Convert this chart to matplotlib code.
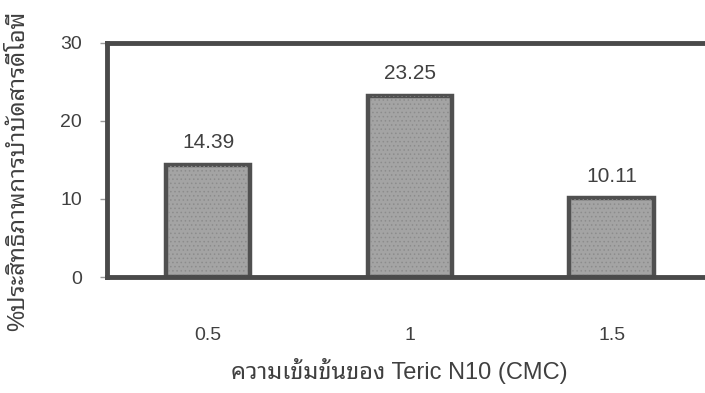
import matplotlib
matplotlib.use("Agg")
import matplotlib.pyplot as plt

plt.rcParams["font.family"] = ["Liberation Sans", "Noto Sans Thai Looped"]
plt.rcParams["hatch.linewidth"] = 0.6

# Teric N10 concentration (CMC) and treatment efficiency (%)
concentrations = ["0.5", "1", "1.5"]
efficiency = [14.39, 23.25, 10.11]
y_ticks = [0, 10, 20, 30]

x_label = "ความเข้มข้นของ Teric N10 (CMC)"
y_label = "%ประสิทธิภาพการบำบัดสารดีโอพี"

text_color = "#404040"
frame_color = "#4a4a4a"

fig = plt.figure(figsize=(7.05, 3.93), dpi=100)
ax = fig.add_axes([0.152, 0.295, 0.859, 0.596])

x = range(len(concentrations))
ax.bar(x, efficiency, width=0.42, color="#a4a4a4",
       edgecolor="#505050", linewidth=3.2, zorder=2)
# fine dotted grain on the bar faces
ax.bar(x, efficiency, width=0.40, fill=False, hatch="....",
       edgecolor="#8c8c8c", linewidth=0, zorder=2.5)

for xi, v in zip(x, efficiency):
    ax.annotate(f"{v:.2f}", (xi, v), xytext=(0, 9), textcoords="offset points",
                ha="center", va="bottom", fontsize=15, color=text_color)

ax.set_xlim(-0.5, 2.5)
ax.set_ylim(0, 30)
ax.set_xticks(list(x))
ax.set_xticklabels(concentrations)
ax.set_yticks(y_ticks)

for side in ("left", "bottom", "top", "right"):
    ax.spines[side].set_color(frame_color)
    ax.spines[side].set_linewidth(3.5)

ax.tick_params(axis="y", length=5, width=1, color="#999999", pad=13,
               labelsize=14, labelcolor=text_color)
ax.tick_params(axis="x", length=0, pad=36, labelsize=14, labelcolor=text_color)

ax.set_xlabel(x_label, fontsize=17, color=text_color)
ax.xaxis.set_label_coords(0.482, -0.345)
ax.set_ylabel(y_label, fontsize=17, color=text_color)
ax.yaxis.set_label_coords(-0.129, 0.453)

fig.savefig("out.png", dpi=100)
